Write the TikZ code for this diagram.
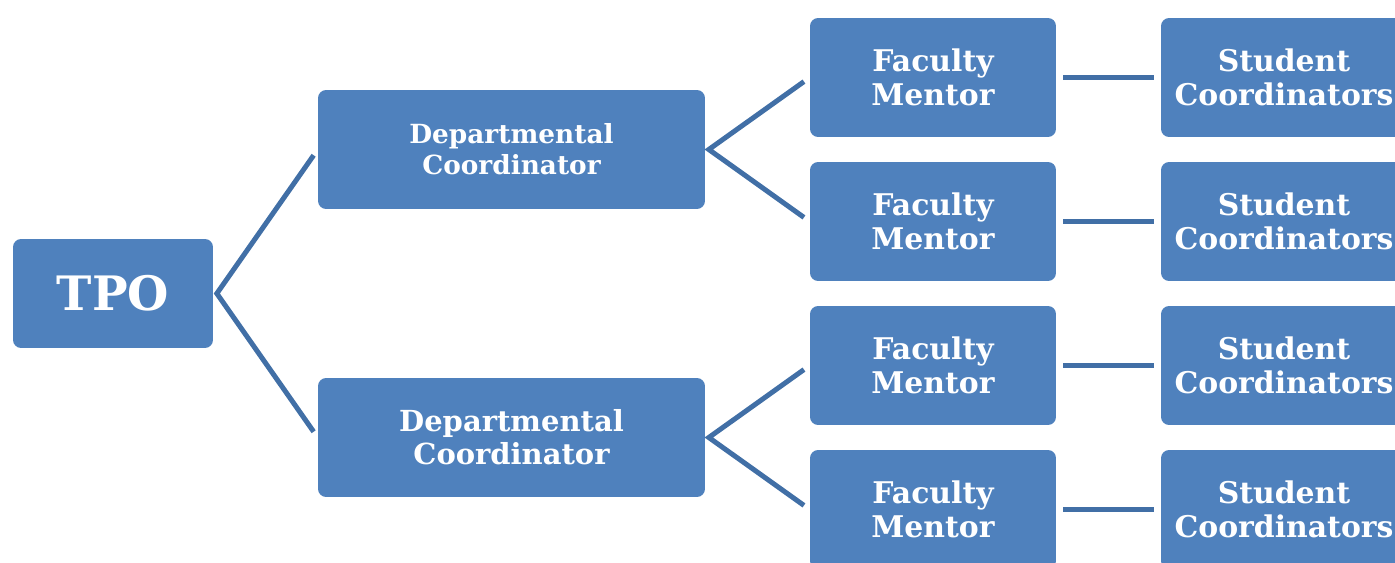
\documentclass[tikz,border=0pt]{standalone}
\usepackage{fontspec}
\setmainfont{DejaVu Serif}
\definecolor{boxblue}{HTML}{4F81BD}
\definecolor{lineblue}{HTML}{416FA6}

\begin{document}
\begin{tikzpicture}[
    x=0.02cm, y=-0.02cm,
    box/.style={rectangle, rounded corners=0.16cm, fill=boxblue, text=white,
        font=\bfseries, align=center, inner sep=0pt,
        minimum width=4.92cm, minimum height=2.38cm},
    link/.style={lineblue, line width=0.1cm, shorten <=4pt, shorten >=4pt}
]
\useasboundingbox (0,0) rectangle (1395,563);
\clip (0,0) rectangle (1395,563);
% Top of the tree
\node[box, minimum width=4cm, minimum height=2.18cm, font=\bfseries\fontsize{27}{32}\selectfont] (tpo) at (113,293.5) {TPO};
% Departmental coordinators
\node[box, minimum width=7.74cm, font=\bfseries\fontsize{15}{17.5}\selectfont] (dc1) at (511.5,149.5) {Departmental\\Coordinator};
\node[box, minimum width=7.74cm, font=\bfseries\fontsize{16.5}{19}\selectfont] (dc2) at (511.5,437.5) {Departmental\\Coordinator};
% Faculty mentors and student coordinators
\foreach \i/\yy in {1/77.5, 2/221.5, 3/365.5, 4/509.5} {
    \node[box, font=\bfseries\fontsize{17}{19.5}\selectfont] (fm\i) at (933,\yy) {Faculty\\Mentor};
    \node[box, font=\bfseries\fontsize{17}{19.5}\selectfont] (sc\i) at (1284,\yy) {Student\\Coordinators};
    \draw[link] (fm\i) -- (sc\i);
}
% Connectors
\draw[link] (dc1.west) -- ([xshift=2pt]tpo.east) -- (dc2.west);
\draw[link] (fm1.west) -- ([xshift=2pt]dc1.east) -- (fm2.west);
\draw[link] (fm3.west) -- ([xshift=2pt]dc2.east) -- (fm4.west);
\end{tikzpicture}
\end{document}
